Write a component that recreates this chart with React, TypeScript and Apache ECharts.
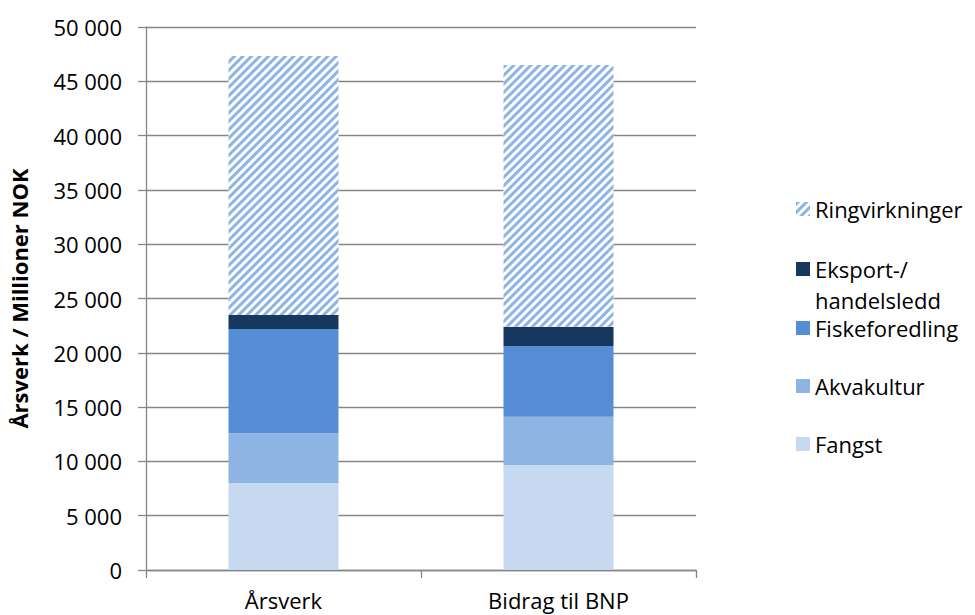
import React, { useEffect, useRef } from 'react';
import * as echarts from 'echarts';

const categories = ['Årsverk', 'Bidrag til BNP'];
const seriesNames = ['Fangst', 'Akvakultur', 'Fiskeforedling', 'Eksport-/\nhandelsledd', 'Ringvirkninger'];
const fangst = [8000, 9670];
const akvakultur = [4600, 4450];
const fiskeforedling = [9600, 6510];
const eksport = [1280, 1770];
const ringvirkninger = [23850, 24100];
const colors = ['#c6d9f1', '#8eb4e3', '#558ed5', '#17375e', '#ffffff'];

const FONT = 'Open Sans';
const FS = 22;

export default function App() {
  const ref = useRef<HTMLDivElement>(null);
  useEffect(() => {
    document.body.style.margin = '0';
    if (!ref.current) return;
    const chart = echarts.init(ref.current, null, { renderer: 'svg' });
    const values = [fangst, akvakultur, fiskeforedling, eksport, ringvirkninger];
    const hatch = {
      symbol: 'rect',
      symbolSize: 1,
      dashArrayX: [1, 0],
      dashArrayY: [2.3, 2.4],
      rotation: -Math.PI / 4,
      color: '#8eb4e3',
    };
    const series = seriesNames.map((name, i) => ({
      name,
      type: 'bar',
      stack: 'total',
      barWidth: '40%',
      data: values[i],
      itemStyle: i === 4 ? { color: colors[i], decal: hatch } : { color: colors[i] },
    }));
    const legendCenters = [210, 270, 329, 387, 445];
    const legendOrder = [4, 3, 2, 1, 0];
    const legends = legendOrder.map((si, k) => {
      const multi = si === 3;
      return {
        data: [seriesNames[si]],
        left: 796,
        top: multi ? legendCenters[k] - 47.5 : legendCenters[k] - 16.5,
        orient: 'vertical',
        padding: 0,
        itemWidth: 14,
        itemHeight: 14,
        icon: 'rect',
        selectedMode: false,
        formatter: (n: string) => (multi ? '\n' + n : n),
        textStyle: { fontFamily: FONT, fontSize: FS, color: '#000', lineHeight: 31 },
      };
    });
    chart.setOption({
      animation: false,
      backgroundColor: '#fff',
      grid: { left: 146, right: 279, top: 27, bottom: 45 },
      legend: legends,
      xAxis: {
        type: 'category',
        data: categories,
        axisLine: { lineStyle: { color: '#868686', width: 1.3 } },
        axisTick: { show: true, length: 8, lineStyle: { color: '#868686', width: 1.3 } },
        axisLabel: { fontFamily: FONT, fontSize: FS, color: '#000', margin: 19 },
      },
      yAxis: {
        type: 'value',
        min: 0,
        max: 50000,
        interval: 5000,
        name: 'Årsverk / Millioner NOK',
        nameLocation: 'middle',
        nameGap: 116,
        nameTextStyle: { fontFamily: FONT, fontSize: FS, fontWeight: 'bold', color: '#000' },
        axisLine: { show: true, lineStyle: { color: '#868686', width: 1.3 } },
        axisTick: { show: true, length: 8, lineStyle: { color: '#868686', width: 1.3 } },
        splitLine: { show: true, lineStyle: { color: '#868686', width: 1.3 } },
        axisLabel: {
          fontFamily: FONT,
          fontSize: FS,
          color: '#000',
          margin: 24,
          formatter: (v: number) => String(v).replace(/\B(?=(\d{3})+(?!\d))/g, ' '),
        },
      },
      series,
    });
    return () => chart.dispose();
  }, []);
  return <div ref={ref} style={{ width: 975, height: 615 }} />;
}
